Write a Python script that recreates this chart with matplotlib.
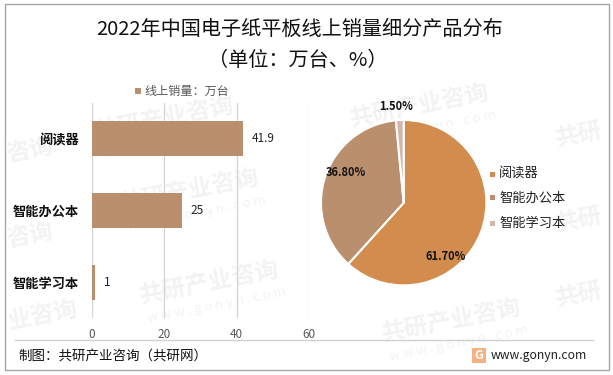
import matplotlib
matplotlib.use('Agg')
import matplotlib.pyplot as plt
from matplotlib.patches import Rectangle
from matplotlib.lines import Line2D

plt.rcParams['font.family'] = ['Noto Sans CJK SC', 'DejaVu Sans']

W, H = 613, 375
categories = ['阅读器', '智能办公本', '智能学习本']
sales = [41.9, 25, 1]
sales_labels = ['41.9', '25', '1']
shares = [61.7, 36.8, 1.5]
share_labels = ['61.70%', '36.80%', '1.50%']
pie_colors = ['#D28C4E', '#BA8F6D', '#D3B5A9']
bar_color = '#BA8F6D'
xticks = [0, 20, 40, 60]
title_lines = ['2022年中国电子纸平板线上销量细分产品分布', '（单位：万台、%）']
legend_bar = '线上销量：万台'
source = '制图：共研产业咨询（共研网）'
site = 'www.gonyn.com'
wm_cn = '共研产业咨询'
wm_en = 'w w w . g o n y n . c o m'
wm_full = [(95, 133), (120, 205), (140, 297), (350, 120), (382, 335)]
wm_part = [('咨询', 6, 155), ('咨询', 6, 240), ('业咨询', 8, 322), ('共研', 556, 140), ('共研', 556, 225), ('共研', 556, 300)]


def ax_px(l, t, r, b):
    return fig.add_axes([l / W, 1 - b / H, (r - l) / W, (b - t) / H])


def fx(x):
    return x / W


def fy(y):
    return 1 - y / H


fig = plt.figure(figsize=(W / 100, H / 100), dpi=100, facecolor='white')

# watermark, behind every axes
wm_kw = dict(color='#F3F3F3', rotation=11, rotation_mode='anchor', ha='left', va='center', zorder=-5)
for x, y in wm_full:
    fig.text(fx(x), fy(y), wm_cn, fontsize=17, fontweight='bold', **wm_kw)
    fig.text(fx(x + 8), fy(y + 22), wm_en, fontsize=9.5, **wm_kw)
for t, x, y in wm_part:
    fig.text(fx(x), fy(y), t, fontsize=17, fontweight='bold', **wm_kw)

# frame and separator
fig.add_artist(Rectangle((fx(4.5), fy(370)), 604.5 / W, 366 / H, transform=fig.transFigure,
                         fill=False, ec='#A6A6A6', lw=1))
fig.add_artist(Line2D([fx(15), fx(593)], [fy(340), fy(340)], color='#D0D0D0', lw=1))

# title
fig.text(fx(300), fy(29), title_lines[0], fontsize=14.5, ha='center', va='center', color='#111111')
fig.text(fx(298), fy(61), title_lines[1], fontsize=14.5, ha='center', va='center', color='#111111')

# bars
ax = ax_px(91.5, 103, 309, 318)
ax.patch.set_alpha(0)
ypos = range(len(categories))
ax.barh(list(ypos), sales, height=0.49, color=bar_color, zorder=3)
ax.set_xlim(0, 60)
ax.set_ylim(2.5, -0.5)
ax.set_xticks(xticks)
ax.set_yticks(list(ypos))
ax.set_yticklabels(categories, fontsize=9.5, fontweight='bold', color='#111111')
ax.tick_params(axis='both', length=0)
ax.tick_params(axis='x', labelsize=8.5, labelcolor='#595959', pad=7)
ax.tick_params(axis='y', pad=9)
ax.grid(axis='x', color='#D4D4D4', lw=0.9, zorder=0)
for s in ax.spines.values():
    s.set_visible(False)
for i, (v, t) in enumerate(zip(sales, sales_labels)):
    ax.annotate(t, (v, i), xytext=(6, 0), textcoords='offset points', fontsize=8.5,
                va='center', ha='left', color='#222222')

# bar legend
fig.add_artist(Rectangle((fx(135), fy(94)), 6 / W, 6 / H, transform=fig.transFigure,
                         fc=bar_color, ec='none'))
fig.text(fx(144), fy(91), legend_bar, fontsize=8.7, color='#595959', ha='left', va='center')

# pie
cx, cy, r = 403.7, 202.7, 82.7
pax = ax_px(cx - r, cy - r, cx + r, cy + r)
pax.patch.set_alpha(0)
pax.pie(shares, colors=pie_colors, startangle=90, counterclock=False, radius=1,
        wedgeprops=dict(edgecolor='white', linewidth=1.5))
pax.set_xlim(-1, 1)
pax.set_ylim(-1, 1)
label_px = [(446, 256), (346, 172), (396, 107)]
for t, (x, y) in zip(share_labels, label_px):
    fig.text(fx(x), fy(y), t, fontsize=8, fontweight='bold', ha='center', va='center', color='#111111')

# pie legend
for c, name, y in zip(pie_colors, categories, [174, 198, 223]):
    fig.add_artist(Rectangle((fx(490), fy(y + 2.5)), 5 / W, 5 / H, transform=fig.transFigure,
                             fc=c, ec='none'))
    fig.text(fx(499), fy(y), name, fontsize=9.5, color='#222222', ha='left', va='center')

# footer
fig.text(fx(18), fy(357), source, fontsize=9.7, color='#111111', ha='left', va='center')
fig.add_artist(Rectangle((fx(472), fy(363)), 14 / W, 15 / H, transform=fig.transFigure,
                         fc='#F4B183', ec='none'))
fig.text(fx(479), fy(355.5), 'G', fontsize=9, fontweight='bold', color='white', ha='center', va='center')
fig.text(fx(491), fy(355.5), site, fontsize=8.8, color='#222222', ha='left', va='center')

fig.savefig('out.png', dpi=100)
